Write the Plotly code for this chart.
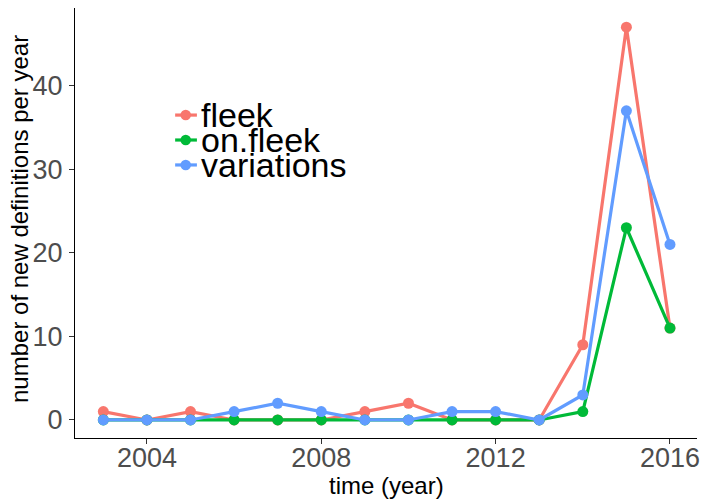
import plotly.graph_objects as go

years = list(range(2003, 2017))
fleek = [1, 0, 1, 0, 0, 0, 1, 2, 0, 0, 0, 9, 47, 11]
on_fleek = [0, 0, 0, 0, 0, 0, 0, 0, 0, 0, 0, 1, 23, 11]
variations = [0, 0, 0, 1, 2, 1, 0, 0, 1, 1, 0, 3, 37, 21]

series_names = ["fleek", "on.fleek", "variations"]
series_values = [fleek, on_fleek, variations]
colors = ["#F8766D", "#00BA38", "#619CFF"]

x_ticks = [2004, 2008, 2012, 2016]
y_ticks = [0, 10, 20, 30, 40]

x_title = "time (year)"
y_title = "number of new definitions per year"

FONT = "Liberation Sans, Arial"

fig = go.Figure()
for name, vals, col in zip(series_names, series_values, colors):
    fig.add_trace(go.Scatter(
        x=years, y=vals, name=name, mode="lines+markers",
        line=dict(color=col, width=3.2),
        marker=dict(color=col, size=11),
        showlegend=False,
    ))

# manual legend (ggplot-style compact key)
leg_y = [0.751, 0.693, 0.635]
for name, col, yy in zip(series_names, colors, leg_y):
    fig.add_shape(type="line", xref="paper", yref="paper",
                  x0=0.161, x1=0.196, y0=yy, y1=yy,
                  line=dict(color=col, width=3.2))
    fig.add_shape(type="circle", xref="paper", yref="paper",
                  x0=0.178 - 0.0085, x1=0.178 + 0.0085,
                  y0=yy - 0.0123, y1=yy + 0.0123,
                  fillcolor=col, line=dict(width=0))
    fig.add_annotation(x=0.199, y=yy, xref="paper", yref="paper",
                       text=name, showarrow=False, xanchor="left", yanchor="middle",
                       font=dict(family=FONT, size=34, color="black"))

# axis titles
fig.add_annotation(x=0.5, y=0, xref="paper", yref="paper", yshift=-47,
                   text=x_title, showarrow=False, xanchor="center", yanchor="middle",
                   font=dict(family=FONT, size=24, color="black"))
fig.add_annotation(x=0, y=0.5, xref="paper", yref="paper", xshift=-56, yshift=4,
                   text=y_title, showarrow=False, textangle=-90,
                   xanchor="center", yanchor="middle",
                   font=dict(family=FONT, size=24, color="black"))

axis_common = dict(
    showline=True, linecolor="black", linewidth=1.2,
    ticks="outside", ticklen=5, tickcolor="#333333", tickwidth=1.2,
    showgrid=False, zeroline=False, automargin=False,
    tickfont=dict(family=FONT, size=27, color="#4D4D4D"),
)

fig.update_layout(
    width=706, height=504,
    margin=dict(l=75, r=9, t=8, b=66),
    plot_bgcolor="white", paper_bgcolor="white",
    xaxis=dict(range=[2002.35, 2016.62], tickvals=x_ticks, ticklabelstandoff=-10,
               **axis_common),
    yaxis=dict(range=[-2.16, 49.3], tickvals=y_ticks, ticklabelstandoff=1,
               **axis_common),
)

fig.write_html("out.html", config={"displayModeBar": False},
               post_script="document.body.style.margin='0';")
